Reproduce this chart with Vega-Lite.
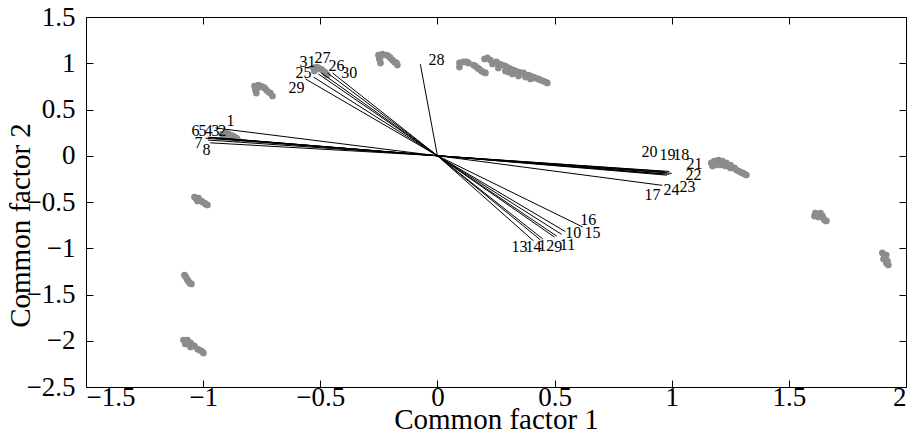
{
  "$schema": "https://vega.github.io/schema/vega-lite/v6.json",
  "width": 820,
  "height": 370,
  "autosize": "none",
  "padding": {"left": 86, "top": 17, "right": 8, "bottom": 47},
  "background": "white",
  "config": {
    "view": {"stroke": "black", "strokeWidth": 1},
    "font": "Liberation Serif",
    "axis": {
      "grid": false,
      "domain": false,
      "tickColor": "black",
      "tickWidth": 1,
      "labelFont": "Liberation Serif",
      "titleFont": "Liberation Serif",
      "labelFontSize": 27,
      "titleFontSize": 29,
      "labelColor": "black",
      "titleColor": "black",
      "titleFontWeight": "normal"
    }
  },
  "datasets": {
    "scores": [
      {"x": -0.918, "y": 0.235}, {"x": -0.901, "y": 0.246}, {"x": -0.883, "y": 0.224}, {"x": -0.866, "y": 0.203}, {"x": -0.854, "y": 0.181}, {"x": -0.909, "y": 0.203}, {"x": -0.892, "y": 0.235}, {"x": -0.875, "y": 0.214}, {"x": -0.858, "y": 0.192},
      {"x": -0.781, "y": 0.754}, {"x": -0.764, "y": 0.765}, {"x": -0.747, "y": 0.744}, {"x": -0.730, "y": 0.711}, {"x": -0.713, "y": 0.678}, {"x": -0.704, "y": 0.646}, {"x": -0.777, "y": 0.711}, {"x": -0.773, "y": 0.678}, {"x": -0.755, "y": 0.754}, {"x": -0.738, "y": 0.733}, {"x": -0.721, "y": 0.689}, {"x": -0.768, "y": 0.733},
      {"x": -0.252, "y": 1.089}, {"x": -0.235, "y": 1.100}, {"x": -0.218, "y": 1.089}, {"x": -0.201, "y": 1.057}, {"x": -0.184, "y": 1.014}, {"x": -0.171, "y": 0.981}, {"x": -0.248, "y": 1.046}, {"x": -0.243, "y": 1.003}, {"x": -0.209, "y": 1.078}, {"x": -0.192, "y": 1.035}, {"x": -0.175, "y": 1.003}, {"x": -0.243, "y": 1.068},
      {"x": 0.094, "y": 1.003}, {"x": 0.111, "y": 1.014}, {"x": 0.132, "y": 1.003}, {"x": 0.154, "y": 0.981}, {"x": 0.171, "y": 0.949}, {"x": 0.188, "y": 0.916}, {"x": 0.205, "y": 0.895}, {"x": 0.094, "y": 0.959}, {"x": 0.124, "y": 1.014}, {"x": 0.162, "y": 0.970}, {"x": 0.179, "y": 0.938}, {"x": 0.196, "y": 0.905},
      {"x": 0.201, "y": 1.046}, {"x": 0.226, "y": 1.035}, {"x": 0.252, "y": 1.014}, {"x": 0.277, "y": 0.981}, {"x": 0.303, "y": 0.949}, {"x": 0.324, "y": 0.927}, {"x": 0.346, "y": 0.905}, {"x": 0.367, "y": 0.895}, {"x": 0.388, "y": 0.873}, {"x": 0.410, "y": 0.851}, {"x": 0.431, "y": 0.830}, {"x": 0.452, "y": 0.808}, {"x": 0.469, "y": 0.787}, {"x": 0.235, "y": 0.992}, {"x": 0.290, "y": 0.916}, {"x": 0.320, "y": 0.884}, {"x": 0.346, "y": 0.862}, {"x": 0.376, "y": 0.851},
      {"x": 0.213, "y": 1.057}, {"x": 0.265, "y": 0.992}, {"x": 0.290, "y": 0.970}, {"x": 0.312, "y": 0.938}, {"x": 0.333, "y": 0.916}, {"x": 0.355, "y": 0.895}, {"x": 0.397, "y": 0.862}, {"x": 0.418, "y": 0.840}, {"x": 0.440, "y": 0.819}, {"x": 0.461, "y": 0.797}, {"x": 0.260, "y": 0.949}, {"x": 0.303, "y": 0.905}, {"x": 0.397, "y": 0.830},
      {"x": -0.529, "y": 0.949}, {"x": -0.516, "y": 0.959}, {"x": -0.499, "y": 0.938}, {"x": -0.482, "y": 0.905}, {"x": -0.470, "y": 0.873}, {"x": -0.525, "y": 0.916}, {"x": -0.508, "y": 0.949}, {"x": -0.491, "y": 0.927}, {"x": -0.478, "y": 0.895},
      {"x": 1.169, "y": -0.078}, {"x": 1.182, "y": -0.057}, {"x": 1.199, "y": -0.046}, {"x": 1.216, "y": -0.057}, {"x": 1.233, "y": -0.078}, {"x": 1.251, "y": -0.100}, {"x": 1.268, "y": -0.132}, {"x": 1.285, "y": -0.165}, {"x": 1.302, "y": -0.186}, {"x": 1.319, "y": -0.208}, {"x": 1.186, "y": -0.100}, {"x": 1.208, "y": -0.100}, {"x": 1.229, "y": -0.111}, {"x": 1.251, "y": -0.132},
      {"x": 1.174, "y": -0.111}, {"x": 1.276, "y": -0.154}, {"x": 1.293, "y": -0.176}, {"x": 1.310, "y": -0.197}, {"x": 1.208, "y": -0.078}, {"x": 1.242, "y": -0.111},
      {"x": 1.613, "y": -0.619}, {"x": 1.635, "y": -0.619}, {"x": 1.626, "y": -0.662}, {"x": 1.647, "y": -0.673}, {"x": 1.660, "y": -0.705}, {"x": 1.609, "y": -0.652}, {"x": 1.622, "y": -0.641}, {"x": 1.643, "y": -0.651}, {"x": 1.652, "y": -0.695},
      {"x": 1.899, "y": -1.051}, {"x": 1.916, "y": -1.073}, {"x": 1.904, "y": -1.116}, {"x": 1.921, "y": -1.138}, {"x": 1.925, "y": -1.181}, {"x": 1.908, "y": -1.095}, {"x": 1.916, "y": -1.160},
      {"x": -1.037, "y": -0.446}, {"x": -1.020, "y": -0.457}, {"x": -1.024, "y": -0.489}, {"x": -1.007, "y": -0.489}, {"x": -0.994, "y": -0.511}, {"x": -0.982, "y": -0.532}, {"x": -1.029, "y": -0.468}, {"x": -1.003, "y": -0.500}, {"x": -0.990, "y": -0.522},
      {"x": -1.080, "y": -1.289}, {"x": -1.071, "y": -1.322}, {"x": -1.063, "y": -1.354}, {"x": -1.050, "y": -1.386}, {"x": -1.076, "y": -1.300}, {"x": -1.067, "y": -1.343}, {"x": -1.058, "y": -1.376},
      {"x": -1.084, "y": -1.992}, {"x": -1.067, "y": -1.992}, {"x": -1.076, "y": -2.035}, {"x": -1.054, "y": -2.024}, {"x": -1.037, "y": -2.057}, {"x": -1.024, "y": -2.089}, {"x": -1.007, "y": -2.111}, {"x": -0.999, "y": -2.132}, {"x": -1.054, "y": -2.067}, {"x": -1.046, "y": -2.046}, {"x": -1.016, "y": -2.100}, {"x": -1.071, "y": -2.013}
    ],
    "loadings": [
      {"id": "1", "x": -0.947, "y": 0.30, "lx": -0.883, "ly": 0.375},
      {"id": "2", "x": -0.93, "y": 0.19, "lx": -0.918, "ly": 0.268},
      {"id": "3", "x": -0.95, "y": 0.19, "lx": -0.947, "ly": 0.268},
      {"id": "4", "x": -0.97, "y": 0.20, "lx": -0.977, "ly": 0.268},
      {"id": "5", "x": -0.98, "y": 0.20, "lx": -1.003, "ly": 0.268},
      {"id": "6", "x": -0.99, "y": 0.19, "lx": -1.033, "ly": 0.268},
      {"id": "7", "x": -0.98, "y": 0.17, "lx": -1.020, "ly": 0.138},
      {"id": "8", "x": -0.97, "y": 0.14, "lx": -0.986, "ly": 0.062},
      {"id": "9", "x": 0.50, "y": -0.88, "lx": 0.516, "ly": -0.986},
      {"id": "10", "x": 0.53, "y": -0.85, "lx": 0.580, "ly": -0.835},
      {"id": "11", "x": 0.51, "y": -0.87, "lx": 0.555, "ly": -0.965},
      {"id": "12", "x": 0.45, "y": -0.90, "lx": 0.465, "ly": -0.976},
      {"id": "13", "x": 0.41, "y": -0.92, "lx": 0.350, "ly": -0.986},
      {"id": "14", "x": 0.44, "y": -0.91, "lx": 0.410, "ly": -0.986},
      {"id": "15", "x": 0.546, "y": -0.82, "lx": 0.662, "ly": -0.835},
      {"id": "16", "x": 0.62, "y": -0.77, "lx": 0.644, "ly": -0.695},
      {"id": "17", "x": 0.96, "y": -0.32, "lx": 0.918, "ly": -0.424},
      {"id": "18", "x": 0.99, "y": -0.17, "lx": 1.041, "ly": 0.008},
      {"id": "19", "x": 0.98, "y": -0.18, "lx": 0.982, "ly": 0.008},
      {"id": "20", "x": 0.97, "y": -0.17, "lx": 0.905, "ly": 0.041},
      {"id": "21", "x": 1.0, "y": -0.19, "lx": 1.097, "ly": -0.089},
      {"id": "22", "x": 0.99, "y": -0.20, "lx": 1.093, "ly": -0.208},
      {"id": "23", "x": 0.98, "y": -0.21, "lx": 1.067, "ly": -0.338},
      {"id": "24", "x": 0.97, "y": -0.20, "lx": 0.999, "ly": -0.370},
      {"id": "25", "x": -0.529, "y": 0.851, "lx": -0.572, "ly": 0.895},
      {"id": "26", "x": -0.469, "y": 0.895, "lx": -0.431, "ly": 0.970},
      {"id": "27", "x": -0.495, "y": 0.895, "lx": -0.491, "ly": 1.057},
      {"id": "28", "x": -0.073, "y": 0.99, "lx": -0.004, "ly": 1.035},
      {"id": "29", "x": -0.563, "y": 0.830, "lx": -0.602, "ly": 0.733},
      {"id": "30", "x": -0.448, "y": 0.895, "lx": -0.376, "ly": 0.895},
      {"id": "31", "x": -0.508, "y": 0.884, "lx": -0.555, "ly": 1.013}
    ]
  },
  "resolve": {"axis": {"x": "independent", "y": "independent"}},
  "layer": [
    {
      "data": {"name": "scores"},
      "mark": {"type": "circle", "size": 45, "color": "#8c8c8c", "opacity": 1},
      "encoding": {
        "x": {"field": "x", "type": "quantitative",
              "scale": {"domain": [-1.5, 2], "nice": false, "zero": false},
              "axis": {"orient": "bottom", "values": [-1.5, -1, -0.5, 0, 0.5, 1, 1.5, 2], "format": "~g",
                       "tickSize": -7, "labelPadding": 4, "labelBaseline": "top",
                       "title": "Common factor 1", "titleY": 41, "titleBaseline": "alphabetic"}},
        "y": {"field": "y", "type": "quantitative",
              "scale": {"domain": [-2.5, 1.5], "nice": false, "zero": false},
              "axis": {"orient": "left", "values": [-2.5, -2, -1.5, -1, -0.5, 0, 0.5, 1, 1.5], "format": "~g",
                       "tickSize": -7, "labelPadding": 18,
                       "title": "Common factor 2", "titleX": -57, "titleY": 208, "titleAngle": -90, "titleBaseline": "alphabetic", "titleAlign": "center"}}
      }
    },
    {
      "data": {"name": "loadings"},
      "mark": {"type": "rule", "color": "black", "strokeWidth": 1},
      "encoding": {
        "x": {"field": "x", "type": "quantitative",
              "axis": {"orient": "top", "values": [-1.5, -1, -0.5, 0, 0.5, 1, 1.5, 2], "labels": false, "title": null, "tickSize": -7}},
        "y": {"field": "y", "type": "quantitative",
              "axis": {"orient": "right", "values": [-2.5, -2, -1.5, -1, -0.5, 0, 0.5, 1, 1.5], "labels": false, "title": null, "tickSize": -7}},
        "x2": {"datum": 0},
        "y2": {"datum": 0}
      }
    },
    {
      "data": {"name": "loadings"},
      "mark": {"type": "text", "font": "Liberation Serif", "fontSize": 16, "color": "black", "align": "center", "baseline": "middle"},
      "encoding": {
        "x": {"field": "lx", "type": "quantitative", "axis": null},
        "y": {"field": "ly", "type": "quantitative", "axis": null},
        "text": {"field": "id", "type": "nominal"}
      }
    }
  ]
}
